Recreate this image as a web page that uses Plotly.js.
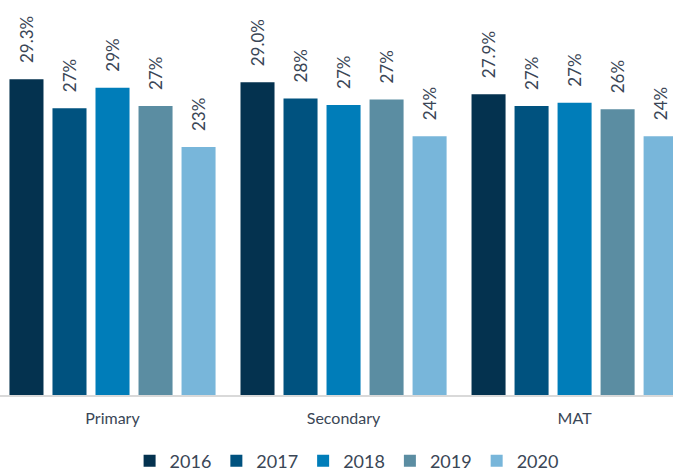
<!DOCTYPE html>
<html><head><meta charset="utf-8">
<script src="https://cdn.plot.ly/plotly-3.0.1.min.js"></script>
<style>html,body{margin:0;padding:0;background:#fff}#chart{width:673px;height:471px}</style>
</head><body><div id="chart"></div>
<script>
const categories = ["Primary", "Secondary", "MAT"];
const years = ["2016", "2017", "2018", "2019", "2020"];
const values2016 = [29.3, 29.0, 27.9];
const values2017 = [26.6, 27.5, 26.8];
const values2018 = [28.5, 26.9, 27.1];
const values2019 = [26.8, 27.4, 26.5];
const values2020 = [23.0, 24.0, 24.0];
const labels2016 = ["29.3%", "29.0%", "27.9%"];
const labels2017 = ["27%", "28%", "27%"];
const labels2018 = ["29%", "27%", "27%"];
const labels2019 = ["27%", "27%", "26%"];
const labels2020 = ["23%", "24%", "24%"];
const colors = ["#04324f", "#00527f", "#007db9", "#5b8da2", "#78b6da"];

const series = [values2016, values2017, values2018, values2019, values2020];
const labels = [labels2016, labels2017, labels2018, labels2019, labels2020];
const font = "Lato, 'Open Sans', sans-serif";
const pad = "\u00a0\u00a0\u00a0";

const data = years.map((y, i) => ({
  type: "bar", name: y, x: categories, y: series[i],
  marker: {color: colors[i]},
  text: labels[i].map(t => pad + t), textposition: "outside", textangle: -90,
  constraintext: "none",
  textfont: {family: font, size: 17, color: "#3a4656"},
  cliponaxis: false, hoverinfo: "none"
}));

const layout = {
  width: 673, height: 471,
  margin: {l: 0, r: 0, t: 0, b: 76, autoexpand: false},
  paper_bgcolor: "#fff", plot_bgcolor: "#fff",
  barmode: "group", bargap: 0.069, bargroupgap: 0.209,
  showlegend: true,
  legend: {orientation: "h", x: 0.515, xanchor: "center", xref: "container",
    y: 0.021, yanchor: "middle", yref: "container",
    font: {family: font, size: 18, color: "#3a4656"}, itemwidth: 30, tracegroupgap: 0},
  xaxis: {range: [-0.487, 2.426], showline: true, linecolor: "#d9d9d9", linewidth: 2,
    ticks: "", ticklabelstandoff: 8, automargin: false,
    tickfont: {family: font, size: 16, color: "#3a4656"}, fixedrange: true},
  yaxis: {range: [0, 36.64], visible: false, showgrid: false, zeroline: false, fixedrange: true, automargin: false},
  font: {family: font}
};
Plotly.newPlot("chart", data, layout, {displayModeBar: false, staticPlot: true});
</script></body></html>
